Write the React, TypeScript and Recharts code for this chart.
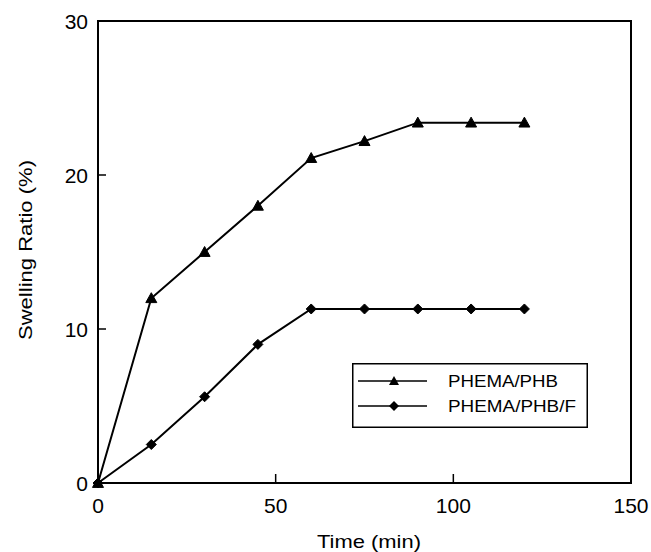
import React from 'react';
import { LineChart, Line, XAxis, YAxis, Legend, ReferenceArea } from 'recharts';

const times = [0, 15, 30, 45, 60, 75, 90, 105, 120];
const phemaPhb = [0, 12, 15, 18, 21.1, 22.2, 23.4, 23.4, 23.4];
const phemaPhbF = [0, 2.5, 5.6, 9, 11.3, 11.3, 11.3, 11.3, 11.3];
const seriesNames = ['PHEMA/PHB', 'PHEMA/PHB/F'];
const xTicks = [0, 50, 100, 150];
const yTicks = [0, 10, 20, 30];
const xLabel = 'Time (min)';
const yLabel = 'Swelling Ratio (%)';

const data = times.map((t, i) => ({ t, a: phemaPhb[i], b: phemaPhbF[i] }));

const FONT = '"Liberation Sans", Arial, Helvetica, sans-serif';

const CHART_W = 651;
const CHART_H = 552;
const M_TOP = 21;
const M_RIGHT = 20;
const Y_W = 98;
const X_H = 69;
const PLOT_BOTTOM = CHART_H - X_H;
const PLOT_LEFT = Y_W;

const tri = (cx: number, cy: number, s = 5.5) =>
  `M${cx},${cy - s} L${cx + s},${cy + s * 0.8} L${cx - s},${cy + s * 0.8} Z`;
const dia = (cx: number, cy: number, s = 5) =>
  `M${cx},${cy - s} L${cx + s},${cy} L${cx},${cy + s} L${cx - s},${cy} Z`;

const TriDot = (props: any) => {
  const { cx, cy, index } = props;
  if (cx == null || cy == null) return <g key={`ta${index}`} />;
  return <path key={`ta${index}`} d={tri(cx, cy)} fill="#000" stroke="#000" strokeWidth={1} />;
};
const DiaDot = (props: any) => {
  const { cx, cy, index } = props;
  if (cx == null || cy == null) return <g key={`db${index}`} />;
  return <path key={`db${index}`} d={dia(cx, cy)} fill="#000" stroke="#000" strokeWidth={1} />;
};

const XTick = (props: any) => {
  const { x, payload } = props;
  const y = PLOT_BOTTOM;
  return (
    <g>
      <line x1={x} y1={y} x2={x} y2={y - 9} stroke="#000" strokeWidth={1.5} />
      <text x={x} y={y + 30} textAnchor="middle" fontSize={21} fontFamily={FONT} fill="#000">
        {payload.value}
      </text>
    </g>
  );
};

const YTick = (props: any) => {
  const { y, payload } = props;
  const x = PLOT_LEFT;
  return (
    <g>
      <line x1={x} y1={y} x2={x + 8} y2={y} stroke="#000" strokeWidth={1.5} />
      <text x={x - 10} y={y + 8} textAnchor="end" fontSize={21} fontFamily={FONT} fill="#000">
        {payload.value}
      </text>
    </g>
  );
};

const LegendBox = () => (
  <svg width={236} height={65} style={{ display: 'block' }}>
    <rect x={0.75} y={0.75} width={234.5} height={63.5} fill="#fff" stroke="#000" strokeWidth={1.5} />
    <line x1={6} y1={18} x2={75} y2={18} stroke="#000" strokeWidth={1.5} />
    <path d={tri(42, 18, 5)} fill="#000" />
    <text x={96} y={24} fontSize={16.5} fontFamily={FONT} fill="#000" textLength={110} lengthAdjust="spacingAndGlyphs">
      {seriesNames[0]}
    </text>
    <line x1={6} y1={43} x2={75} y2={43} stroke="#000" strokeWidth={1.5} />
    <path d={dia(42, 43, 5)} fill="#000" />
    <text x={96} y={49} fontSize={16.5} fontFamily={FONT} fill="#000" textLength={128} lengthAdjust="spacingAndGlyphs">
      {seriesNames[1]}
    </text>
  </svg>
);

export default function App() {
  return (
    <div style={{ width: CHART_W, height: CHART_H, position: 'absolute', left: 0, top: 0, background: '#fff' }}>
      <LineChart width={CHART_W} height={CHART_H} data={data} margin={{ top: M_TOP, right: M_RIGHT, left: 0, bottom: 0 }}>
        <XAxis
          dataKey="t"
          type="number"
          domain={[0, 150]}
          ticks={xTicks}
          tick={<XTick />}
          tickLine={false}
          height={X_H}
          axisLine={{ stroke: '#000', strokeWidth: 2 }}
          label={() => (
            <text x={369} y={548} textAnchor="middle" fontSize={19} fontFamily={FONT} fill="#000" textLength={104} lengthAdjust="spacingAndGlyphs">
              {xLabel}
            </text>
          )}
        />
        <YAxis
          type="number"
          domain={[0, 30]}
          ticks={yTicks}
          tick={<YTick />}
          tickLine={false}
          width={Y_W}
          axisLine={{ stroke: '#000', strokeWidth: 2 }}
          label={() => (
            <text
              x={25}
              y={250}
              transform={`rotate(-90, 25, 250)`}
              textAnchor="middle"
              dominantBaseline="central"
              fontSize={19}
              fontFamily={FONT}
              fill="#000"
              textLength={180}
              lengthAdjust="spacingAndGlyphs"
            >
              {yLabel}
            </text>
          )}
        />
        <ReferenceArea x1={0} x2={150} y1={0} y2={30} fill="none" fillOpacity={0} stroke="#000" strokeWidth={2} />
        <Legend
          layout="vertical"
          align="center"
          verticalAlign="middle"
          content={() => <LegendBox />}
          wrapperStyle={{ position: 'absolute', left: 352, top: 363, width: 236, height: 65 }}
        />
        <Line dataKey="a" name={seriesNames[0]} stroke="#000" strokeWidth={2} dot={TriDot} isAnimationActive={false} />
        <Line dataKey="b" name={seriesNames[1]} stroke="#000" strokeWidth={2} dot={DiaDot} isAnimationActive={false} />
      </LineChart>
    </div>
  );
}
